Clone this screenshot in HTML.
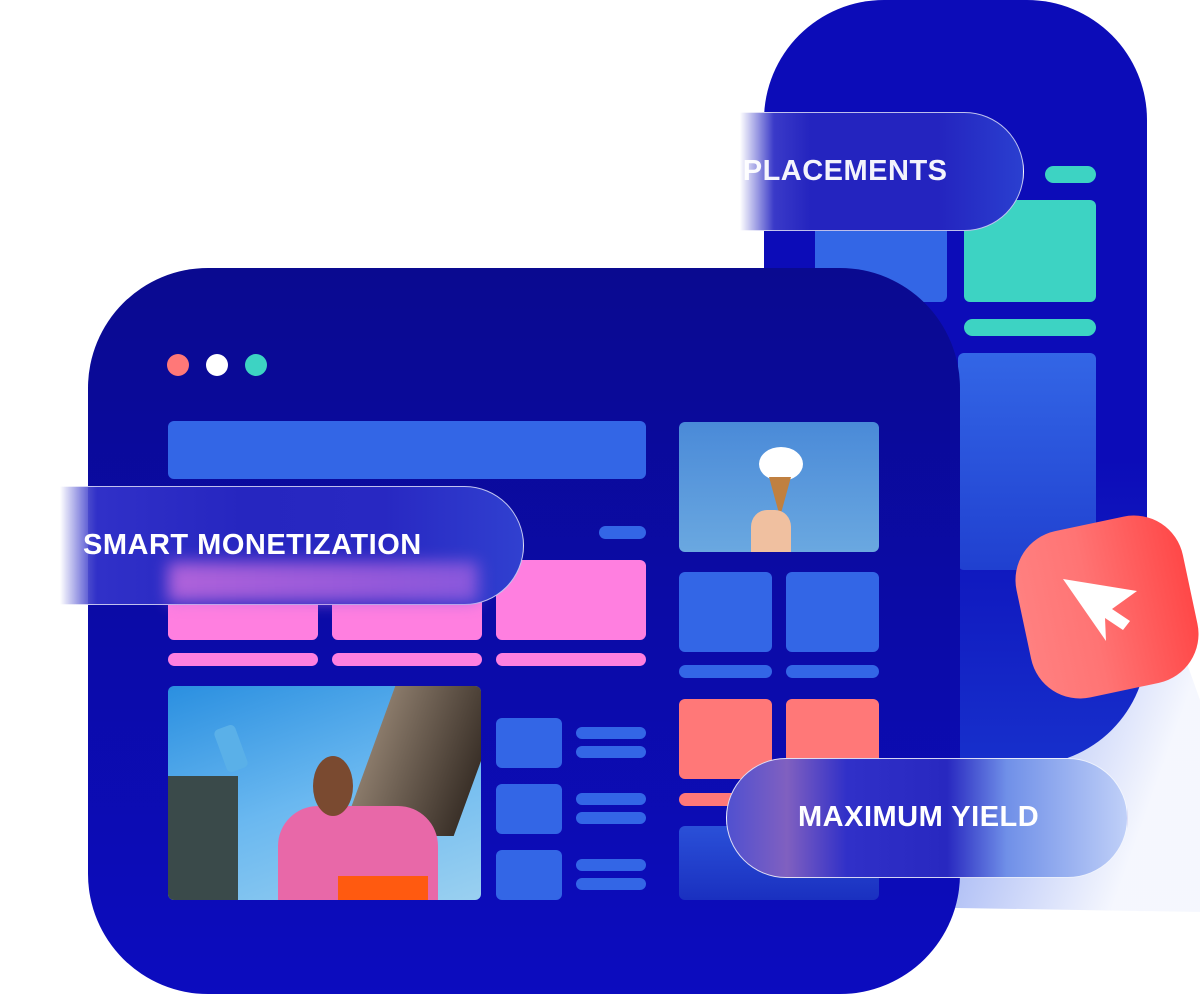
<!DOCTYPE html>
<html><head><meta charset="utf-8"><style>
body{margin:0;width:1200px;height:994px;background:#fff;position:relative;overflow:hidden;font-family:"Liberation Sans",sans-serif}
div{position:absolute;box-sizing:border-box}
.b{background:#3366e6;border-radius:6px}
.p{background:#ff7fe0;border-radius:6px}
.t{background:#3dd3c3;border-radius:6px}
.s{background:#ff7878;border-radius:6px}
.lbl{color:#fff;font-weight:bold;font-size:29px;letter-spacing:0.5px;white-space:nowrap}
</style></head><body>
<svg style="position:absolute;left:0;top:0" width="1200" height="994"><defs><linearGradient id="sh" x1="0" y1="0" x2="1" y2="0.3"><stop offset="0" stop-color="#3d63e8"/><stop offset="1" stop-color="#3d63e8" stop-opacity="0.05"/></linearGradient></defs><polygon points="780,560 1150,560 1200,700 1200,912 780,905" fill="url(#sh)"/></svg>
<div style="left:764px;top:0;width:383px;height:765px;background:linear-gradient(180deg,#0c0cb8,#0c0cb8 60%,#1730cc);border-radius:120px 120px 120px 0"></div>
<div class="t" style="left:1045px;top:166px;width:51px;height:17px;border-radius:9px"></div>
<div class="b" style="left:815px;top:200px;width:132px;height:102px"></div>
<div class="t" style="left:964px;top:200px;width:132px;height:102px"></div>
<div class="t" style="left:964px;top:319px;width:132px;height:17px;border-radius:9px"></div>
<div style="left:958px;top:353px;width:138px;height:217px;background:linear-gradient(#3366e6,#2040d0);border-radius:6px"></div>
<div style="left:740px;top:112px;width:284px;height:119px;border-radius:0 60px 60px 0;border:1px solid rgba(255,255,255,.7);border-left:none;background:linear-gradient(90deg,rgba(255,255,255,1),#3a3ac8 12%,#2424bf 25%,#2424bf 70%,#2a3fd0)"></div>
<div class="lbl" style="left:590px;top:155px;color:rgba(255,255,255,.95)">FLEXIBLE PLACEMENTS</div>
<div style="left:88px;top:268px;width:872px;height:726px;background:linear-gradient(180deg,#0a0a90,#0c0cbf);border-radius:120px"></div>
<div style="left:167px;top:354px;width:22px;height:22px;border-radius:50%;background:#ff7878"></div>
<div style="left:206px;top:354px;width:22px;height:22px;border-radius:50%;background:#fff"></div>
<div style="left:245px;top:354px;width:22px;height:22px;border-radius:50%;background:#3dd3c3"></div>
<div class="b" style="left:168px;top:421px;width:478px;height:58px"></div>
<div class="b" style="left:599px;top:526px;width:47px;height:13px;border-radius:7px"></div>
<div class="p" style="left:168px;top:560px;width:150px;height:80px"></div>
<div class="p" style="left:332px;top:560px;width:150px;height:80px"></div>
<div class="p" style="left:496px;top:560px;width:150px;height:80px"></div>
<div class="p" style="left:168px;top:653px;width:150px;height:13px;border-radius:7px"></div>
<div class="p" style="left:332px;top:653px;width:150px;height:13px;border-radius:7px"></div>
<div class="p" style="left:496px;top:653px;width:150px;height:13px;border-radius:7px"></div>
<div style="left:168px;top:686px;width:313px;height:214px;border-radius:6px;overflow:hidden;background:linear-gradient(160deg,#2a8fe0,#6ab8f0 50%,#9ad0f0)">
<div style="left:200px;top:0;width:113px;height:150px;background:linear-gradient(90deg,#8a7a6a,#3a3028);transform:skewX(-20deg)"></div>
<div style="left:0;top:90px;width:70px;height:124px;background:#3a4a4a"></div>
<div style="left:110px;top:120px;width:160px;height:94px;background:#e868a8;border-radius:40px 40px 0 0"></div>
<div style="left:170px;top:190px;width:90px;height:24px;background:#ff5a10"></div>
<div style="left:145px;top:70px;width:40px;height:60px;background:#7a4a30;border-radius:50%"></div>
<div style="left:52px;top:40px;width:22px;height:45px;background:#5ab0e8;border-radius:5px;transform:rotate(-20deg)"></div>
</div>
<div class="b" style="left:496px;top:718px;width:66px;height:50px"></div>
<div class="b" style="left:496px;top:784px;width:66px;height:50px"></div>
<div class="b" style="left:496px;top:850px;width:66px;height:50px"></div>
<div class="b" style="left:576px;top:727px;width:70px;height:12px;border-radius:6px"></div>
<div class="b" style="left:576px;top:746px;width:70px;height:12px;border-radius:6px"></div>
<div class="b" style="left:576px;top:793px;width:70px;height:12px;border-radius:6px"></div>
<div class="b" style="left:576px;top:812px;width:70px;height:12px;border-radius:6px"></div>
<div class="b" style="left:576px;top:859px;width:70px;height:12px;border-radius:6px"></div>
<div class="b" style="left:576px;top:878px;width:70px;height:12px;border-radius:6px"></div>
<div style="left:679px;top:422px;width:200px;height:130px;border-radius:6px;background:linear-gradient(180deg,#4a8ad8,#6aa8e0);overflow:hidden">
<div style="left:80px;top:25px;width:44px;height:34px;background:#fff;border-radius:50%"></div>
<div style="left:90px;top:55px;width:22px;height:40px;background:#c08040;clip-path:polygon(0 0,100% 0,50% 100%)"></div>
<div style="left:72px;top:88px;width:40px;height:42px;background:#f0c0a0;border-radius:40% 40% 0 0"></div>
</div>
<div class="b" style="left:679px;top:572px;width:93px;height:80px"></div>
<div class="b" style="left:786px;top:572px;width:93px;height:80px"></div>
<div class="b" style="left:679px;top:665px;width:93px;height:13px;border-radius:7px"></div>
<div class="b" style="left:786px;top:665px;width:93px;height:13px;border-radius:7px"></div>
<div class="s" style="left:679px;top:699px;width:93px;height:80px"></div>
<div class="s" style="left:786px;top:699px;width:93px;height:80px"></div>
<div class="s" style="left:679px;top:793px;width:60px;height:13px;border-radius:7px"></div>
<div class="b" style="left:679px;top:826px;width:200px;height:74px;background:linear-gradient(#2a50d8,#1a30c0)"></div>
<div style="left:60px;top:486px;width:464px;height:119px;border-radius:0 60px 60px 0;border:1px solid rgba(255,255,255,.7);border-left:none;background:linear-gradient(90deg,rgba(255,255,255,.6),#3030c8 8%,#2626c0 40%,#2828c2 70%,#3040d0)"></div>
<div style="left:168px;top:562px;width:310px;height:40px;background:linear-gradient(90deg,#d070e0,#a060e0);filter:blur(8px);opacity:.8"></div>
<div class="lbl" style="left:83px;top:529px">SMART MONETIZATION</div>
<div style="left:726px;top:758px;width:402px;height:120px;border-radius:60px;border:1px solid rgba(255,255,255,.8);background:linear-gradient(90deg,#5050d0,#8060c0 15%,#3030c8 30%,#2828c0 55%,#7090e8 70%,#c0d0f8)"></div>
<div class="lbl" style="left:798px;top:801px">MAXIMUM YIELD</div>
<div style="left:1022px;top:522px;width:170px;height:170px;border-radius:50px;transform:rotate(-12deg);background:linear-gradient(90deg,#ff8080,#ff7474 40%,#ff4848)"></div>
<svg style="position:absolute;left:1060px;top:575px" width="85" height="70"><polygon points="3,4 77,16 52,34 70,46 63,55 45,43 46,66" fill="#fff"/></svg>
</body></html>
